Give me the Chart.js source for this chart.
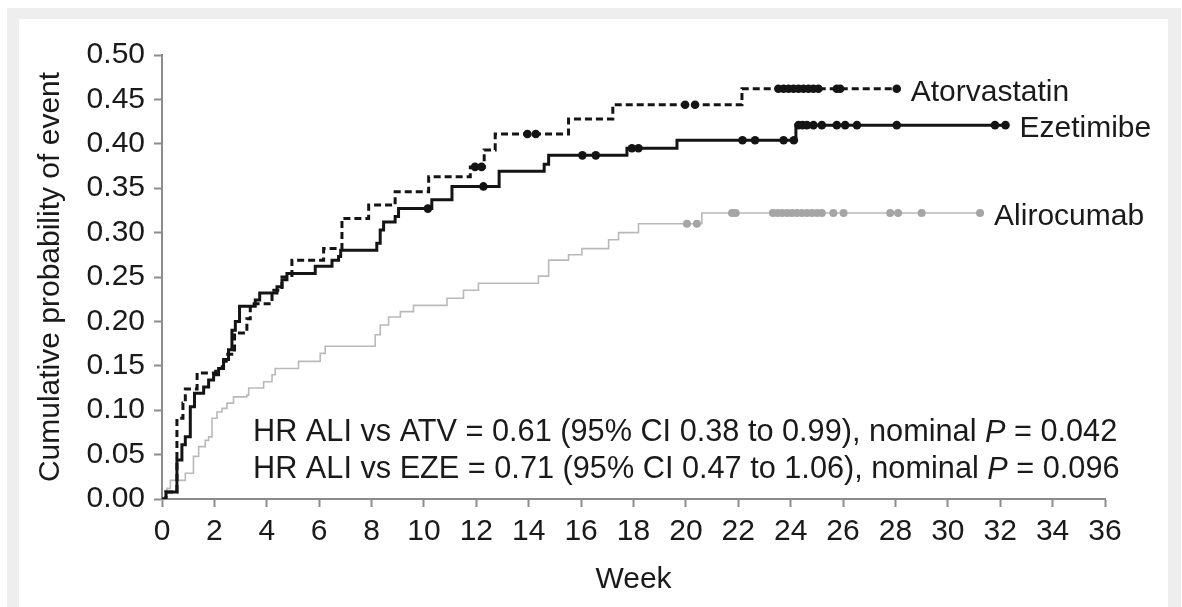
<!DOCTYPE html>
<html>
<head>
<meta charset="utf-8">
<title>Cumulative probability of event</title>
<script src="https://cdn.jsdelivr.net/npm/chart.js@4.4.1/dist/chart.umd.min.js"></script>
<style>
  html, body { margin: 0; padding: 0; background: #fff; overflow: hidden; }
  #frame { position: absolute; left: 7px; top: 8px; width: 1174px; height: 620px; background: #eeeeee; }
  #panel { position: absolute; left: 12px; top: 11px; width: 1149px; height: 620px; background: #fff; }
  #wrap { position: absolute; left: 0; top: 0; width: 1182px; height: 607px; }
</style>
</head>
<body>
<div id="frame"><div id="panel"></div></div>
<div id="wrap"><canvas id="kmChart"></canvas></div>
<script>
  // ===== DATA =====
  // Atorvastatin: week of each step and cumulative probability after it
  const atvWeeks = [0, 0.15, 0.57, 0.8, 0.89, 1.34, 2.05, 2.3, 2.45, 2.77, 3.24, 3.37, 4.2, 4.58, 4.96,
    6.17, 6.87, 7.89, 8.9, 10.18, 11.77, 12.3, 12.72, 15.52, 17.21, 22.14, 28.05];
  const atvProb = [0, 0.008, 0.091, 0.108, 0.124, 0.142, 0.147, 0.155, 0.163, 0.187, 0.203, 0.22, 0.235, 0.25, 0.269,
    0.282, 0.316, 0.331, 0.346, 0.363, 0.374, 0.393, 0.411, 0.428, 0.444, 0.462, 0.462];
  const atvCensor = [11.95, 12.2, 13.95, 14.27, 19.97, 20.35, 23.53, 23.73, 23.92, 24.11, 24.3, 24.49,
    24.68, 24.87, 25.06, 25.76, 25.89, 28.05];

  // Ezetimibe
  const ezeWeeks = [0, 0.15, 0.57, 0.76, 0.89, 1.08, 1.24, 1.59, 1.78, 1.97, 2.16, 2.35, 2.54, 2.67, 2.8,
    2.96, 3.56, 3.73, 4.39, 4.58, 4.77, 5.85, 6.49, 6.74, 6.82, 8.2, 8.33, 8.46, 8.9, 9.03,
    10.3, 11.07, 12.87, 14.59, 14.76, 17.75, 19.66, 24.2, 32.2];
  const ezeProb = [0, 0.008, 0.044, 0.061, 0.07, 0.104, 0.119, 0.126, 0.134, 0.14, 0.147, 0.157, 0.168, 0.19, 0.2,
    0.217, 0.224, 0.232, 0.239, 0.247, 0.254, 0.262, 0.269, 0.273, 0.28, 0.288, 0.303, 0.312, 0.318, 0.327,
    0.337, 0.352, 0.369, 0.377, 0.387, 0.395, 0.404, 0.421, 0.421];
  const ezeCensor = [10.15, 12.27, 16.05, 16.56, 17.94, 18.19, 22.16, 22.64, 23.73, 24.12, 24.3, 24.45,
    24.62, 24.87, 25.19, 25.76, 26.08, 26.53, 28.05, 31.8, 32.2];

  // Alirocumab
  const aliWeeks = [0, 0.19, 0.32, 0.89, 1.2, 1.4, 1.65, 1.78, 1.91, 2.1, 2.29, 2.48, 2.73, 3.24, 3.31,
    3.88, 4.2, 4.32, 5.21, 6.04, 6.23, 8.14, 8.33, 8.65, 9.1, 9.6, 10.88, 11.51, 12.08, 14.37,
    14.76, 15.52, 16.03, 17.05, 17.43, 18.19, 20.61, 31.23];
  const aliProb = [0, 0.012, 0.021, 0.029, 0.048, 0.059, 0.066, 0.07, 0.091, 0.098, 0.102, 0.108, 0.115, 0.117, 0.125,
    0.132, 0.14, 0.147, 0.155, 0.164, 0.172, 0.185, 0.196, 0.205, 0.211, 0.218, 0.226, 0.235, 0.243, 0.251,
    0.269, 0.275, 0.282, 0.292, 0.3, 0.31, 0.322, 0.322];
  const aliCensor = [20.04, 20.42, 21.76, 21.9, 23.32, 23.5, 23.68, 23.87, 24.05, 24.24, 24.43, 24.62,
    24.81, 25.0, 25.19, 25.63, 26.02, 27.8, 28.1, 29.0, 31.23];

  const seriesNames = ['Atorvastatin', 'Ezetimibe', 'Alirocumab'];
  const hrLines = [
    ['HR ALI vs ATV = 0.61 (95% CI 0.38 to 0.99), nominal ', 'P', ' = 0.042'],
    ['HR ALI vs EZE = 0.71 (95% CI 0.47 to 1.06), nominal ', 'P', ' = 0.096']
  ];
  const xMax = 36, xStep = 2;
  const yMax = 0.5, yStep = 0.05;

  // ===== STYLE =====
  const colors = {
    text: '#1a1a1a',
    black: '#141414',
    gray: '#b9b9b9',
    grayDot: '#a5a5a5',
    axis: '#8c8c8c'
  };
  const fontFamily = '"Liberation Sans", Arial, Helvetica, sans-serif';
  const fontSize = 30;

  function toPoints(weeks, probs) {
    return weeks.map((w, i) => ({ x: w, y: probs[i] }));
  }

  // value of the step curve at a given week
  function stepValue(weeks, probs, t) {
    let v = probs[0];
    for (let i = 0; i < weeks.length; i++) {
      if (weeks[i] <= t) v = probs[i];
    }
    return v;
  }

  function censorPoints(times, weeks, probs) {
    return times.map(t => ({ x: t, y: stepValue(weeks, probs, t) }));
  }

  function curve(label, weeks, probs, color, width, dash, order) {
    return {
      label: label,
      data: toPoints(weeks, probs),
      borderColor: color,
      borderWidth: width,
      borderDash: dash,
      stepped: 'before',
      pointRadius: 0,
      fill: false,
      order: order
    };
  }

  function marks(label, times, weeks, probs, color, radius, order) {
    return {
      label: label,
      data: censorPoints(times, weeks, probs),
      showLine: false,
      pointRadius: radius,
      pointBackgroundColor: color,
      pointBorderWidth: 0,
      borderColor: color,
      order: order
    };
  }

  // series names at line ends + hazard ratio text
  const textPlugin = {
    id: 'kmText',
    afterDatasetsDraw(chart) {
      const ctx = chart.ctx;
      const xs = chart.scales.x, ys = chart.scales.y;
      ctx.save();
      ctx.fillStyle = colors.text;
      ctx.textBaseline = 'middle';
      ctx.textAlign = 'left';
      ctx.font = fontSize + 'px ' + fontFamily;

      const ends = [
        [atvWeeks, atvProb],
        [ezeWeeks, ezeProb],
        [aliWeeks, aliProb]
      ];
      ends.forEach((e, i) => {
        const w = e[0][e[0].length - 1];
        const p = e[1][e[1].length - 1];
        ctx.fillText(seriesNames[i], xs.getPixelForValue(w) + 14, ys.getPixelForValue(p) + 4);
      });

      // HR lines, P in italics
      const hrSize = 30.7;
      const left = chart.chartArea.left + 91;
      const tops = [433, 470];
      hrLines.forEach((parts, li) => {
        let x = left;
        parts.forEach((txt, pi) => {
          ctx.font = (pi === 1 ? 'italic ' : '') + hrSize + 'px ' + fontFamily;
          ctx.fillText(txt, x, tops[li]);
          x += ctx.measureText(txt).width;
        });
      });
      ctx.restore();
    }
  };

  const ctx = document.getElementById('kmChart');
  new Chart(ctx, {
    type: 'line',
    data: {
      datasets: [
        marks('Atorvastatin censored', atvCensor, atvWeeks, atvProb, colors.black, 4.3, 1),
        marks('Ezetimibe censored', ezeCensor, ezeWeeks, ezeProb, colors.black, 4.3, 1),
        curve('Ezetimibe', ezeWeeks, ezeProb, colors.black, 3, [], 2),
        curve('Atorvastatin', atvWeeks, atvProb, colors.black, 3, [7, 4], 3),
        marks('Alirocumab censored', aliCensor, aliWeeks, aliProb, colors.grayDot, 4, 4),
        curve('Alirocumab', aliWeeks, aliProb, colors.gray, 1.6, [], 5)
      ]
    },
    options: {
      responsive: true,
      maintainAspectRatio: false,
      animation: false,
      layout: {
        padding: { top: 55, right: 77, bottom: 0, left: 0 }
      },
      plugins: {
        legend: { display: false },
        tooltip: { enabled: false }
      },
      scales: {
        x: {
          type: 'linear',
          min: 0,
          max: xMax,
          afterFit: function(scale) { scale.height = 108; },
          ticks: {
            stepSize: xStep,
            autoSkip: false,
            maxRotation: 0,
            padding: 7,
            color: colors.text,
            font: { family: fontFamily, size: fontSize }
          },
          grid: {
            drawOnChartArea: false,
            drawTicks: true,
            tickLength: 8,
            tickWidth: 2,
            color: colors.axis
          },
          border: { display: true, color: colors.axis, width: 2 },
          title: {
            display: true,
            text: 'Week',
            color: colors.text,
            font: { family: fontFamily, size: fontSize },
            padding: { top: 0, bottom: 9 }
          }
        },
        y: {
          min: 0,
          max: yMax,
          afterFit: function(scale) { scale.width = 162; },
          ticks: {
            stepSize: yStep,
            padding: 9,
            color: colors.text,
            font: { family: fontFamily, size: fontSize },
            callback: function(value) { return value.toFixed(2); }
          },
          grid: {
            drawOnChartArea: false,
            drawTicks: true,
            tickLength: 8,
            tickWidth: 2,
            color: colors.axis
          },
          border: { display: true, color: colors.axis, width: 2 },
          title: {
            display: true,
            text: 'Cumulative probability of event',
            color: colors.text,
            font: { family: fontFamily, size: fontSize },
            padding: { top: 33, bottom: 0 }
          }
        }
      }
    },
    plugins: [textPlugin]
  });
</script>
</body>
</html>
